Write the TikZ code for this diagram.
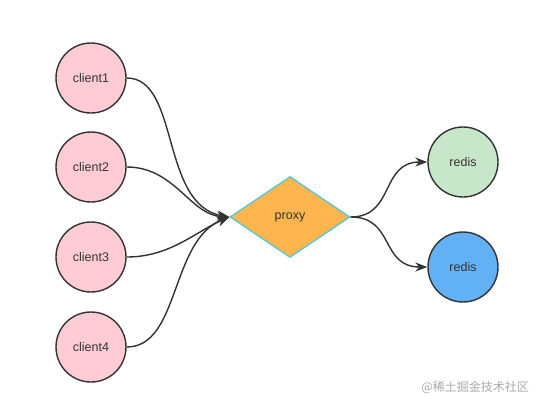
\documentclass[tikz,border=0pt]{standalone}
\usepackage{fontspec}
\setmainfont{Liberation Sans}
\newfontfamily\cjk{Noto Sans CJK SC}
\usetikzlibrary{shapes.geometric,arrows.meta}
\definecolor{pinkfill}{HTML}{FFCCD5}
\definecolor{greenfill}{HTML}{C8E6C9}
\definecolor{bluefill}{HTML}{62B1F4}
\definecolor{orangefill}{HTML}{FFB54D}
\definecolor{cyanline}{HTML}{5CC8D4}
\definecolor{darkline}{HTML}{333333}
\definecolor{wmgray}{HTML}{AAAAAA}
\tikzset{
  circ/.style={circle,draw=darkline,line width=1.4pt,minimum size=70pt,inner sep=0pt,font=\fontsize{12.5}{14}\selectfont,text=darkline},
  conn/.style={draw=darkline,line width=1.4pt,-{Stealth[length=12pt,width=9pt]}},
}
\begin{document}
\begin{tikzpicture}[x=1pt,y=-1pt]
\useasboundingbox[fill=white] (0,0) rectangle (536,405);
\node[circ,fill=pinkfill] (c1) at (91,78) {client1};
\node[circ,fill=pinkfill] (c2) at (91,167) {client2};
\node[circ,fill=pinkfill] (c3) at (91,257) {client3};
\node[circ,fill=pinkfill] (c4) at (91,347) {client4};
\node[diamond,draw=cyanline,line width=1.4pt,fill=orangefill,minimum width=120pt,minimum height=81pt,aspect=1.48,inner sep=0pt,font=\fontsize{12.5}{14}\selectfont,text=darkline] (p) at (290,217) {proxy};
\node[circ,fill=greenfill] (r1) at (463,162) {redis};
\node[circ,fill=bluefill] (r2) at (463,267) {redis};
\draw[conn] (c1.east) .. controls (180,78) and (160,205) .. (p.west);
\draw[conn] (c2.east) .. controls (175,167) and (190,215) .. (p.west);
\draw[conn] (c3.east) .. controls (170,257) and (195,232) .. (p.west);
\draw[conn] (c4.east) .. controls (180,347) and (170,240) .. (p.west);
\draw[conn] (p.east) .. controls (395,217) and (380,162) .. (r1.west);
\draw[conn] (p.east) .. controls (395,217) and (380,267) .. (r2.west);
\node[anchor=east,text=wmgray,font=\cjk\fontsize{12}{14}\selectfont,inner sep=0pt] (wm) at (529,387) {@稀土掘金技术社区};
\end{tikzpicture}
\end{document}
